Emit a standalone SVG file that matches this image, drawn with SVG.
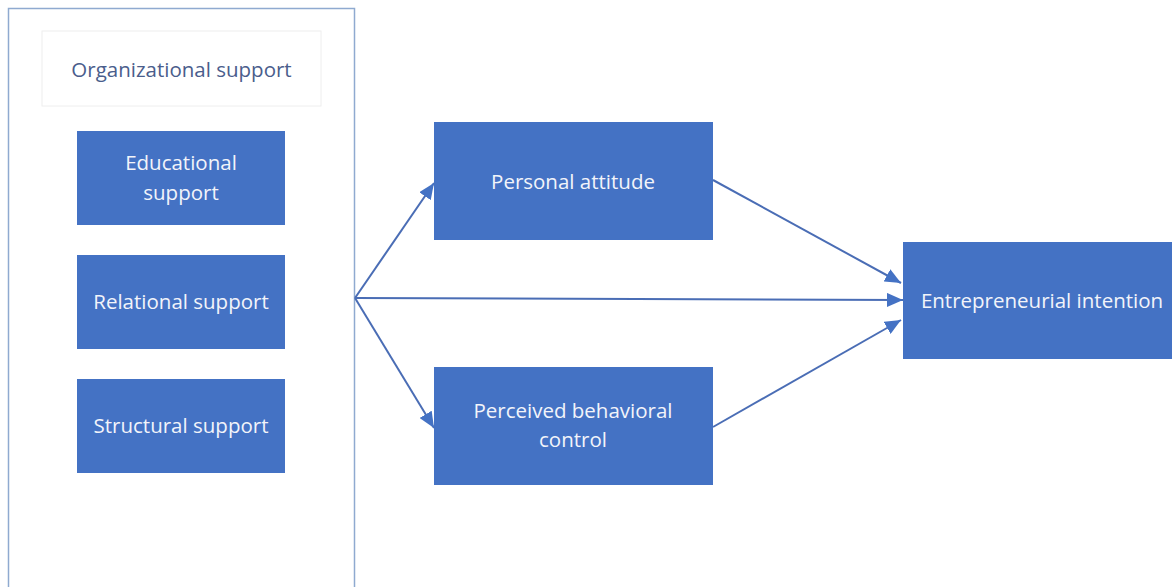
<svg xmlns="http://www.w3.org/2000/svg" width="1172" height="587" viewBox="0 0 1172 587">
<defs>
<style>
.box{fill:#4472C4;}
.t{font-family:"Open Sans","Liberation Sans",Arial,sans-serif;font-size:20.5px;fill:#f2f4fa;text-anchor:middle;}
.c{stroke:#4a6db5;stroke-width:2;fill:none;}
</style>
<marker id="ah" viewBox="0 0 16 14" refX="16" refY="7" markerWidth="16" markerHeight="14" markerUnits="userSpaceOnUse" orient="auto">
<path d="M0,0 L16,7 L0,14 z" fill="#4472C4"/>
</marker>
</defs>
<rect width="1172" height="587" fill="#ffffff"/>
<g id="org">
<rect x="8.5" y="8.5" width="346" height="590" fill="#ffffff" stroke="#8faad0" stroke-width="1.5"/>
<rect x="42" y="31" width="279" height="75" fill="#ffffff" stroke="#eeeeee" stroke-width="1"/>
<text x="181.5" y="77" class="t" style="fill:#4a5d8c">Organizational support</text>
</g>
<g id="edu"><rect class="box" x="77" y="131" width="208" height="94"/><text class="t" x="181" y="170">Educational</text><text class="t" x="181" y="200">support</text></g>
<g id="rel"><rect class="box" x="77" y="255" width="208" height="94"/><text class="t" x="181" y="309">Relational support</text></g>
<g id="str"><rect class="box" x="77" y="379" width="208" height="94"/><text class="t" x="181" y="433">Structural support</text></g>
<g id="pa"><rect class="box" x="434" y="122" width="279" height="118"/><text class="t" x="573" y="189">Personal attitude</text></g>
<g id="pbc"><rect class="box" x="434" y="367" width="279" height="118"/><text class="t" x="573" y="418">Perceived behavioral</text><text class="t" x="573" y="447">control</text></g>
<g id="ei"><rect class="box" x="903" y="242" width="280" height="117"/><text class="t" x="1042" y="308">Entrepreneurial intention</text></g>
<g id="connectors">
<path class="c" d="M355,298 L434,183" marker-end="url(#ah)"/>
<path class="c" d="M355,298 L434,428" marker-end="url(#ah)"/>
<path class="c" d="M355,298 L903,300" marker-end="url(#ah)"/>
<path class="c" d="M713,180 L901,283" marker-end="url(#ah)"/>
<path class="c" d="M713,427 L901,320" marker-end="url(#ah)"/>
</g>
</svg>
